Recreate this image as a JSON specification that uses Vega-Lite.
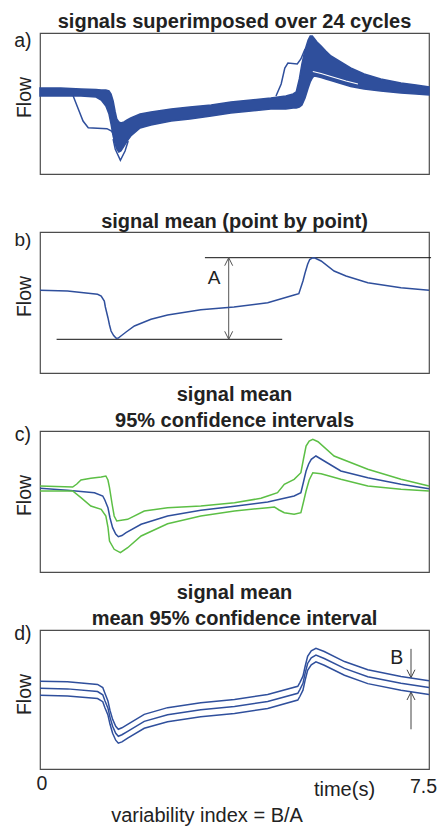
{
  "$schema": "https://vega.github.io/schema/vega-lite/v6.json",
  "padding": {"left": 13, "top": 11, "right": 5, "bottom": 5},
  "background": "white",
  "bounds": "flush",
  "spacing": 58,
  "resolve": {"scale": {"color": "independent"}},
  "config": {
    "font": "Liberation Sans",
    "view": {"stroke": "#4d4d4d", "strokeWidth": 1.2},
    "title": {"font": "Liberation Sans", "fontSize": 20, "fontWeight": "bold", "color": "#222222", "offset": -1, "lineHeight": 26, "anchor": "middle"},
    "axis": {"grid": false, "ticks": false, "domain": false, "titleFont": "Liberation Sans", "labelFont": "Liberation Sans", "titleColor": "#222222", "labelColor": "#222222"}
  },
  "datasets": {
    "aBand": [
      {"t": 0, "v": 86, "v2": 78}, {"t": 0.40, "v": 86, "v2": 78}, {"t": 0.79, "v": 85, "v2": 78},
      {"t": 1.08, "v": 84.5, "v2": 77}, {"t": 1.18, "v": 84, "v2": 74}, {"t": 1.27, "v": 84, "v2": 68},
      {"t": 1.33, "v": 83, "v2": 60}, {"t": 1.37, "v": 80, "v2": 50}, {"t": 1.41, "v": 73, "v2": 38},
      {"t": 1.45, "v": 62, "v2": 30}, {"t": 1.48, "v": 55, "v2": 25}, {"t": 1.52, "v": 52, "v2": 22},
      {"t": 1.56, "v": 51, "v2": 23}, {"t": 1.62, "v": 52, "v2": 28}, {"t": 1.68, "v": 54, "v2": 33},
      {"t": 1.75, "v": 56, "v2": 38}, {"t": 1.93, "v": 60, "v2": 46}, {"t": 2.14, "v": 62, "v2": 49},
      {"t": 2.53, "v": 65, "v2": 53}, {"t": 2.89, "v": 67, "v2": 55}, {"t": 3.30, "v": 69, "v2": 58},
      {"t": 3.68, "v": 72, "v2": 61}, {"t": 4.07, "v": 74, "v2": 63}, {"t": 4.45, "v": 76, "v2": 65},
      {"t": 4.74, "v": 78, "v2": 65}, {"t": 4.88, "v": 80, "v2": 66}, {"t": 4.94, "v": 82, "v2": 66},
      {"t": 5.00, "v": 95, "v2": 67}, {"t": 5.05, "v": 110, "v2": 69}, {"t": 5.11, "v": 124, "v2": 76},
      {"t": 5.17, "v": 134, "v2": 86}, {"t": 5.21, "v": 138, "v2": 92}, {"t": 5.25, "v": 138, "v2": 96},
      {"t": 5.28, "v": 136, "v2": 98}, {"t": 5.34, "v": 132, "v2": 97.5}, {"t": 5.42, "v": 128, "v2": 96.5},
      {"t": 5.51, "v": 123, "v2": 95}, {"t": 5.61, "v": 118, "v2": 93.5}, {"t": 5.80, "v": 112, "v2": 90.5},
      {"t": 5.99, "v": 106, "v2": 87.5}, {"t": 6.25, "v": 100, "v2": 85}, {"t": 6.57, "v": 95, "v2": 83},
      {"t": 6.96, "v": 91, "v2": 81}, {"t": 7.25, "v": 89, "v2": 80}, {"t": 7.50, "v": 87, "v2": 79}
    ],
    "aOut": [
      {"s": "o1", "t": 0.62, "v": 80}, {"s": "o1", "t": 0.64, "v": 78}, {"s": "o1", "t": 0.74, "v": 64.7},
      {"s": "o1", "t": 0.83, "v": 53}, {"s": "o1", "t": 0.93, "v": 46.3}, {"s": "o1", "t": 1.29, "v": 45.3},
      {"s": "o1", "t": 1.38, "v": 43}, {"s": "o1", "t": 1.43, "v": 38},
      {"s": "o2", "t": 1.41, "v": 35}, {"s": "o2", "t": 1.45, "v": 25}, {"s": "o2", "t": 1.55, "v": 13.7},
      {"s": "o2", "t": 1.64, "v": 23}, {"s": "o2", "t": 1.70, "v": 33},
      {"s": "o3", "t": 4.55, "v": 78}, {"s": "o3", "t": 4.65, "v": 90}, {"s": "o3", "t": 4.72, "v": 106},
      {"s": "o3", "t": 4.78, "v": 111}, {"s": "o3", "t": 4.96, "v": 110}, {"s": "o3", "t": 5.03, "v": 115},
      {"s": "o3", "t": 5.11, "v": 125}
    ],
    "aGap": [
      {"t": 5.26, "v": 102.5}, {"t": 5.42, "v": 100.5}, {"t": 5.61, "v": 97.5}, {"t": 5.90, "v": 93}, {"t": 6.13, "v": 90}
    ],
    "aLab": [{"lbl": "a)", "t": -0.33, "v": 133}],
    "bMean": [
      {"t": 0, "v": 82.7}, {"t": 0.53, "v": 82}, {"t": 1.11, "v": 78.7}, {"t": 1.18, "v": 77},
      {"t": 1.24, "v": 72}, {"t": 1.26, "v": 66}, {"t": 1.31, "v": 55.3}, {"t": 1.34, "v": 48},
      {"t": 1.37, "v": 42}, {"t": 1.42, "v": 37.5}, {"t": 1.47, "v": 34.7}, {"t": 1.51, "v": 35},
      {"t": 1.56, "v": 37}, {"t": 1.66, "v": 41}, {"t": 1.82, "v": 47}, {"t": 2.14, "v": 53.7},
      {"t": 2.46, "v": 58}, {"t": 3.10, "v": 63.3}, {"t": 3.74, "v": 66}, {"t": 4.39, "v": 70.3},
      {"t": 4.90, "v": 78}, {"t": 4.99, "v": 79.3}, {"t": 5.07, "v": 92}, {"t": 5.11, "v": 100},
      {"t": 5.16, "v": 108.7}, {"t": 5.20, "v": 113.5}, {"t": 5.26, "v": 115.3}, {"t": 5.30, "v": 115},
      {"t": 5.42, "v": 112}, {"t": 5.67, "v": 102}, {"t": 5.90, "v": 97}, {"t": 6.32, "v": 90.3},
      {"t": 6.96, "v": 85.3}, {"t": 7.5, "v": 82.7}
    ],
    "bSeg": [
      {"k": "ref", "t": 3.18, "v": 115.3, "t2": 7.54, "v2": 115.3},
      {"k": "ref", "t": 0.32, "v": 33.7, "t2": 4.67, "v2": 33.7},
      {"k": "arrow", "t": 3.638, "v": 33.7, "t2": 3.638, "v2": 115.3},
      {"k": "arrow", "t": 3.638, "v": 115.3, "t2": 3.561, "v2": 107.3},
      {"k": "arrow", "t": 3.638, "v": 115.3, "t2": 3.715, "v2": 107.3},
      {"k": "arrow", "t": 3.638, "v": 33.7, "t2": 3.561, "v2": 41.7},
      {"k": "arrow", "t": 3.638, "v": 33.7, "t2": 3.715, "v2": 41.7}
    ],
    "bLab": [{"lbl": "b)", "t": -0.33, "v": 133.5}, {"lbl": "A", "t": 3.355, "v": 95.3}],
    "cLines": [
      {"s": "mean", "t": 0, "v": 83.7}, {"s": "mean", "t": 0.53, "v": 81.7}, {"s": "mean", "t": 1.05, "v": 79.3},
      {"s": "mean", "t": 1.21, "v": 76}, {"s": "mean", "t": 1.25, "v": 72}, {"s": "mean", "t": 1.31, "v": 64.3},
      {"s": "mean", "t": 1.35, "v": 54}, {"s": "mean", "t": 1.40, "v": 44.3}, {"s": "mean", "t": 1.46, "v": 38},
      {"s": "mean", "t": 1.51, "v": 35.3}, {"s": "mean", "t": 1.58, "v": 36.5}, {"s": "mean", "t": 1.66, "v": 39.3},
      {"s": "mean", "t": 1.95, "v": 47.7}, {"s": "mean", "t": 2.46, "v": 56}, {"s": "mean", "t": 3.10, "v": 61.7},
      {"s": "mean", "t": 3.75, "v": 65.7}, {"s": "mean", "t": 4.39, "v": 70}, {"s": "mean", "t": 4.90, "v": 76},
      {"s": "mean", "t": 5.03, "v": 79.3}, {"s": "mean", "t": 5.08, "v": 90}, {"s": "mean", "t": 5.13, "v": 101},
      {"s": "mean", "t": 5.18, "v": 108}, {"s": "mean", "t": 5.23, "v": 112.7}, {"s": "mean", "t": 5.32, "v": 116},
      {"s": "mean", "t": 5.48, "v": 111}, {"s": "mean", "t": 5.80, "v": 101}, {"s": "mean", "t": 6.32, "v": 94.3},
      {"s": "mean", "t": 6.96, "v": 87.7}, {"s": "mean", "t": 7.5, "v": 83.3},
      {"s": "upper", "t": 0, "v": 86}, {"s": "upper", "t": 0.63, "v": 85}, {"s": "upper", "t": 0.71, "v": 88},
      {"s": "upper", "t": 0.79, "v": 92}, {"s": "upper", "t": 0.98, "v": 93.7}, {"s": "upper", "t": 1.18, "v": 95},
      {"s": "upper", "t": 1.27, "v": 96}, {"s": "upper", "t": 1.31, "v": 92}, {"s": "upper", "t": 1.34, "v": 84.3},
      {"s": "upper", "t": 1.39, "v": 68}, {"s": "upper", "t": 1.43, "v": 56}, {"s": "upper", "t": 1.48, "v": 51},
      {"s": "upper", "t": 1.69, "v": 52.7}, {"s": "upper", "t": 2.01, "v": 61}, {"s": "upper", "t": 2.46, "v": 64.3},
      {"s": "upper", "t": 3.10, "v": 66}, {"s": "upper", "t": 3.75, "v": 69.3}, {"s": "upper", "t": 4.26, "v": 73.7},
      {"s": "upper", "t": 4.39, "v": 76}, {"s": "upper", "t": 4.58, "v": 79.3}, {"s": "upper", "t": 4.71, "v": 87.7},
      {"s": "upper", "t": 4.90, "v": 92.7}, {"s": "upper", "t": 5.03, "v": 99.3}, {"s": "upper", "t": 5.08, "v": 113},
      {"s": "upper", "t": 5.13, "v": 126}, {"s": "upper", "t": 5.19, "v": 131}, {"s": "upper", "t": 5.26, "v": 132.7},
      {"s": "upper", "t": 5.36, "v": 130.3}, {"s": "upper", "t": 5.67, "v": 116}, {"s": "upper", "t": 6.32, "v": 102.7},
      {"s": "upper", "t": 6.96, "v": 92.7}, {"s": "upper", "t": 7.5, "v": 86},
      {"s": "lower", "t": 0, "v": 81}, {"s": "lower", "t": 0.63, "v": 81}, {"s": "lower", "t": 0.79, "v": 74.3},
      {"s": "lower", "t": 0.98, "v": 66}, {"s": "lower", "t": 1.18, "v": 62.7}, {"s": "lower", "t": 1.27, "v": 56},
      {"s": "lower", "t": 1.31, "v": 45}, {"s": "lower", "t": 1.34, "v": 31}, {"s": "lower", "t": 1.43, "v": 22.7},
      {"s": "lower", "t": 1.55, "v": 19.3}, {"s": "lower", "t": 1.69, "v": 24.3}, {"s": "lower", "t": 1.95, "v": 36},
      {"s": "lower", "t": 2.46, "v": 48.3}, {"s": "lower", "t": 3.10, "v": 56}, {"s": "lower", "t": 3.75, "v": 61},
      {"s": "lower", "t": 4.39, "v": 64.3}, {"s": "lower", "t": 4.52, "v": 65}, {"s": "lower", "t": 4.61, "v": 62},
      {"s": "lower", "t": 4.71, "v": 59.3}, {"s": "lower", "t": 4.90, "v": 57.7}, {"s": "lower", "t": 5.03, "v": 59.3},
      {"s": "lower", "t": 5.08, "v": 70}, {"s": "lower", "t": 5.13, "v": 81}, {"s": "lower", "t": 5.19, "v": 92},
      {"s": "lower", "t": 5.26, "v": 99.3}, {"s": "lower", "t": 5.42, "v": 98.3}, {"s": "lower", "t": 5.80, "v": 92.7},
      {"s": "lower", "t": 6.32, "v": 86}, {"s": "lower", "t": 6.96, "v": 82.7}, {"s": "lower", "t": 7.5, "v": 81}
    ],
    "cLab": [{"lbl": "c)", "t": -0.33, "v": 137.5}],
    "dLines": [
      {"s": "mid", "t": 0, "v": 81.3}, {"s": "mid", "t": 0.53, "v": 80.7}, {"s": "mid", "t": 1.11, "v": 78},
      {"s": "mid", "t": 1.21, "v": 74.7}, {"s": "mid", "t": 1.25, "v": 69}, {"s": "mid", "t": 1.31, "v": 61.3},
      {"s": "mid", "t": 1.35, "v": 52}, {"s": "mid", "t": 1.40, "v": 43}, {"s": "mid", "t": 1.46, "v": 36},
      {"s": "mid", "t": 1.51, "v": 33}, {"s": "mid", "t": 1.58, "v": 34.5}, {"s": "mid", "t": 1.69, "v": 38},
      {"s": "mid", "t": 2.01, "v": 48}, {"s": "mid", "t": 2.46, "v": 54.7}, {"s": "mid", "t": 3.10, "v": 59.7},
      {"s": "mid", "t": 3.75, "v": 63}, {"s": "mid", "t": 4.39, "v": 68}, {"s": "mid", "t": 4.97, "v": 76.3},
      {"s": "mid", "t": 5.01, "v": 80}, {"s": "mid", "t": 5.07, "v": 86.3}, {"s": "mid", "t": 5.11, "v": 96},
      {"s": "mid", "t": 5.16, "v": 106.3}, {"s": "mid", "t": 5.23, "v": 112}, {"s": "mid", "t": 5.32, "v": 114.7},
      {"s": "mid", "t": 5.48, "v": 111.3}, {"s": "mid", "t": 5.87, "v": 101.3}, {"s": "mid", "t": 6.32, "v": 93},
      {"s": "mid", "t": 6.96, "v": 86.3}, {"s": "mid", "t": 7.5, "v": 82},
      {"s": "up", "t": 0, "v": 88.5}, {"s": "up", "t": 0.53, "v": 88}, {"s": "up", "t": 1.11, "v": 85.2},
      {"s": "up", "t": 1.21, "v": 82}, {"s": "up", "t": 1.25, "v": 76.5}, {"s": "up", "t": 1.31, "v": 68.5},
      {"s": "up", "t": 1.35, "v": 59}, {"s": "up", "t": 1.40, "v": 50}, {"s": "up", "t": 1.46, "v": 43},
      {"s": "up", "t": 1.51, "v": 40}, {"s": "up", "t": 1.58, "v": 41.5}, {"s": "up", "t": 1.69, "v": 45},
      {"s": "up", "t": 2.01, "v": 55}, {"s": "up", "t": 2.46, "v": 61.8}, {"s": "up", "t": 3.10, "v": 66.8},
      {"s": "up", "t": 3.75, "v": 70}, {"s": "up", "t": 4.39, "v": 75}, {"s": "up", "t": 4.97, "v": 83.3},
      {"s": "up", "t": 5.01, "v": 87}, {"s": "up", "t": 5.07, "v": 93.5}, {"s": "up", "t": 5.11, "v": 103},
      {"s": "up", "t": 5.16, "v": 113.5}, {"s": "up", "t": 5.23, "v": 119}, {"s": "up", "t": 5.32, "v": 121.5},
      {"s": "up", "t": 5.48, "v": 118.3}, {"s": "up", "t": 5.87, "v": 108.2}, {"s": "up", "t": 6.32, "v": 100},
      {"s": "up", "t": 6.96, "v": 93.2}, {"s": "up", "t": 7.5, "v": 89},
      {"s": "lo", "t": 0, "v": 74.2}, {"s": "lo", "t": 0.53, "v": 73.6}, {"s": "lo", "t": 1.11, "v": 71},
      {"s": "lo", "t": 1.21, "v": 67.8}, {"s": "lo", "t": 1.25, "v": 62}, {"s": "lo", "t": 1.31, "v": 54.3},
      {"s": "lo", "t": 1.35, "v": 45}, {"s": "lo", "t": 1.40, "v": 36}, {"s": "lo", "t": 1.46, "v": 29},
      {"s": "lo", "t": 1.51, "v": 26}, {"s": "lo", "t": 1.58, "v": 27.3}, {"s": "lo", "t": 1.69, "v": 31},
      {"s": "lo", "t": 2.01, "v": 41}, {"s": "lo", "t": 2.46, "v": 47.6}, {"s": "lo", "t": 3.10, "v": 52.6},
      {"s": "lo", "t": 3.75, "v": 56}, {"s": "lo", "t": 4.39, "v": 61}, {"s": "lo", "t": 4.97, "v": 69.4},
      {"s": "lo", "t": 5.01, "v": 73}, {"s": "lo", "t": 5.07, "v": 79.4}, {"s": "lo", "t": 5.11, "v": 89},
      {"s": "lo", "t": 5.16, "v": 99.5}, {"s": "lo", "t": 5.23, "v": 105}, {"s": "lo", "t": 5.32, "v": 108},
      {"s": "lo", "t": 5.48, "v": 104.5}, {"s": "lo", "t": 5.87, "v": 94.4}, {"s": "lo", "t": 6.32, "v": 86},
      {"s": "lo", "t": 6.96, "v": 79.4}, {"s": "lo", "t": 7.5, "v": 75}
    ],
    "dSeg": [
      {"k": "arrow", "t": 7.153, "v": 121, "t2": 7.153, "v2": 92},
      {"k": "arrow", "t": 7.153, "v": 92, "t2": 7.076, "v2": 100},
      {"k": "arrow", "t": 7.153, "v": 92, "t2": 7.230, "v2": 100},
      {"k": "arrow", "t": 7.153, "v": 77.5, "t2": 7.153, "v2": 40},
      {"k": "arrow", "t": 7.153, "v": 77.5, "t2": 7.076, "v2": 69.5},
      {"k": "arrow", "t": 7.153, "v": 77.5, "t2": 7.230, "v2": 69.5}
    ],
    "dLab": [{"lbl": "d)", "t": -0.33, "v": 135.5}, {"lbl": "B", "t": 6.88, "v": 112}],
    "dFoot": [{"lbl": "variability index = B/A", "t": 3.22, "v": -47}]
  },
  "vconcat": [
    {
      "width": 389, "height": 141,
      "title": {"text": "signals superimposed over 24 cycles"},
      "encoding": {
        "x": {"field": "t", "type": "quantitative", "scale": {"domain": [0, 7.5], "nice": false, "zero": false}, "axis": null},
        "y": {"field": "v", "type": "quantitative", "scale": {"domain": [0, 141], "nice": false, "zero": false},
              "axis": {"title": "Flow", "labels": false, "titleFontSize": 19.5, "titleFontWeight": "normal", "titleX": -16, "titleY": 64, "titleAlign": "center", "titleBaseline": "middle", "titleAngle": -90}}
      },
      "layer": [
        {"data": {"name": "aBand"}, "mark": {"type": "area", "color": "#2f4f9c", "stroke": "#2f4f9c", "strokeWidth": 1.5, "opacity": 1}, "encoding": {"y2": {"field": "v2"}}},
        {"data": {"name": "aOut"}, "mark": {"type": "line", "color": "#2f4f9c", "strokeWidth": 1.5}, "encoding": {"detail": {"field": "s"}}},
        {"data": {"name": "aGap"}, "mark": {"type": "line", "color": "white", "strokeWidth": 1.2}, "encoding": {}},
        {"data": {"name": "aLab"}, "mark": {"type": "text", "fontSize": 19.5, "color": "#222222", "align": "center", "baseline": "middle"}, "encoding": {"text": {"field": "lbl"}}}
      ]
    },
    {
      "width": 389, "height": 141,
      "title": {"text": "signal mean (point by point)"},
      "encoding": {
        "x": {"field": "t", "type": "quantitative", "scale": {"domain": [0, 7.5], "nice": false, "zero": false}, "axis": null},
        "y": {"field": "v", "type": "quantitative", "scale": {"domain": [0, 141], "nice": false, "zero": false},
              "axis": {"title": "Flow", "labels": false, "titleFontSize": 19.5, "titleFontWeight": "normal", "titleX": -16, "titleY": 64, "titleAlign": "center", "titleBaseline": "middle", "titleAngle": -90}}
      },
      "layer": [
        {"data": {"name": "bSeg"}, "mark": {"type": "rule", "strokeWidth": 1},
         "encoding": {"x2": {"field": "t2"}, "y2": {"field": "v2"},
                      "color": {"field": "k", "type": "nominal", "scale": {"domain": ["ref", "arrow"], "range": ["#111111", "#555555"]}, "legend": null}}},
        {"data": {"name": "bMean"}, "mark": {"type": "line", "color": "#2f4f9c", "strokeWidth": 1.5}, "encoding": {}},
        {"data": {"name": "bLab"}, "mark": {"type": "text", "fontSize": 19, "color": "#222222", "align": "center", "baseline": "middle"}, "encoding": {"text": {"field": "lbl"}}}
      ]
    },
    {
      "width": 389, "height": 141,
      "title": {"text": ["signal mean", "95% confidence intervals"], "offset": -6},
      "encoding": {
        "x": {"field": "t", "type": "quantitative", "scale": {"domain": [0, 7.5], "nice": false, "zero": false}, "axis": null},
        "y": {"field": "v", "type": "quantitative", "scale": {"domain": [0, 141], "nice": false, "zero": false},
              "axis": {"title": "Flow", "labels": false, "titleFontSize": 19.5, "titleFontWeight": "normal", "titleX": -16, "titleY": 64, "titleAlign": "center", "titleBaseline": "middle", "titleAngle": -90}}
      },
      "layer": [
        {"data": {"name": "cLines"}, "mark": {"type": "line", "strokeWidth": 1.5},
         "encoding": {"color": {"field": "s", "type": "nominal", "scale": {"domain": ["upper", "lower", "mean"], "range": ["#5cbf45", "#5cbf45", "#2f4f9c"]}, "legend": null}}},
        {"data": {"name": "cLab"}, "mark": {"type": "text", "fontSize": 19.5, "color": "#222222", "align": "center", "baseline": "middle"}, "encoding": {"text": {"field": "lbl"}}}
      ]
    },
    {
      "width": 389, "height": 139,
      "title": {"text": ["signal mean", "mean 95% confidence interval"], "offset": -5},
      "encoding": {
        "x": {"field": "t", "type": "quantitative", "scale": {"domain": [0, 7.5], "nice": false, "zero": false},
              "axis": {"values": [0, 7.5], "format": ".2~f", "title": "time(s)", "labelFontSize": 19.5, "titleFontSize": 20, "titleFontWeight": "normal",
                       "titleX": 304, "titleY": 20, "titleAlign": "center", "titleBaseline": "middle", "labelFlush": false,
                       "labelOffset": {"condition": {"test": "datum.value == 0", "value": 1.5}, "value": -6},
                       "labelPadding": {"condition": {"test": "datum.value == 0", "value": 5}, "value": 8}}},
        "y": {"field": "v", "type": "quantitative", "scale": {"domain": [0, 140], "nice": false, "zero": false},
              "axis": {"title": "Flow", "labels": false, "titleFontSize": 19.5, "titleFontWeight": "normal", "titleX": -16, "titleY": 64, "titleAlign": "center", "titleBaseline": "middle", "titleAngle": -90}}
      },
      "layer": [
        {"data": {"name": "dSeg"}, "mark": {"type": "rule", "strokeWidth": 1, "color": "#444444"},
         "encoding": {"x2": {"field": "t2"}, "y2": {"field": "v2"}}},
        {"data": {"name": "dLines"}, "mark": {"type": "line", "color": "#2f4f9c", "strokeWidth": 1.5}, "encoding": {"detail": {"field": "s"}}},
        {"data": {"name": "dLab"}, "mark": {"type": "text", "fontSize": 19.5, "color": "#222222", "align": "center", "baseline": "middle"}, "encoding": {"text": {"field": "lbl"}}},
        {"data": {"name": "dFoot"}, "mark": {"type": "text", "fontSize": 20, "color": "#222222", "align": "center", "baseline": "middle"}, "encoding": {"text": {"field": "lbl"}}}
      ]
    }
  ]
}
